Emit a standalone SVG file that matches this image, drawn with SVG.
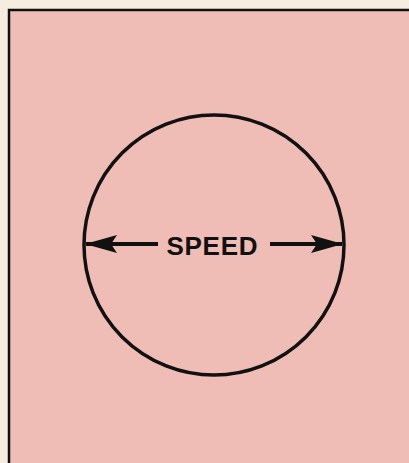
<svg xmlns="http://www.w3.org/2000/svg" width="409" height="463" viewBox="0 0 409 463">
<style>
.ln{stroke:#111;fill:none}
.lbl{font-family:"Liberation Sans",Arial,sans-serif;font-weight:bold;font-size:26px;fill:#111}
</style>
<defs>
<marker id="ah" viewBox="0 0 32 18" refX="31" refY="9" markerWidth="32" markerHeight="18" markerUnits="userSpaceOnUse" orient="auto-start-reverse">
<path d="M0,0 L32,9 L0,18 L6,9 Z" fill="#111"/>
</marker>
</defs>
<rect width="409" height="463" fill="#f5ede0"/>
<rect x="9" y="10" width="402" height="456" fill="#efbdb5"/>
<path class="ln" d="M9,463 V10 H409" stroke-width="2.5"/>
<g id="circle">
<circle class="ln" cx="214" cy="245" r="130" stroke-width="3.5"/>
</g>
<g id="connectors">
<line class="ln" x1="158" y1="244" x2="86" y2="244" stroke-width="4" marker-end="url(#ah)"/>
<line class="ln" x1="270" y1="244" x2="342" y2="244" stroke-width="4" marker-end="url(#ah)"/>
</g>
<g id="label">
<text class="lbl" x="212" y="255" text-anchor="middle" textLength="91" lengthAdjust="spacing">SPEED</text>
</g>
</svg>
